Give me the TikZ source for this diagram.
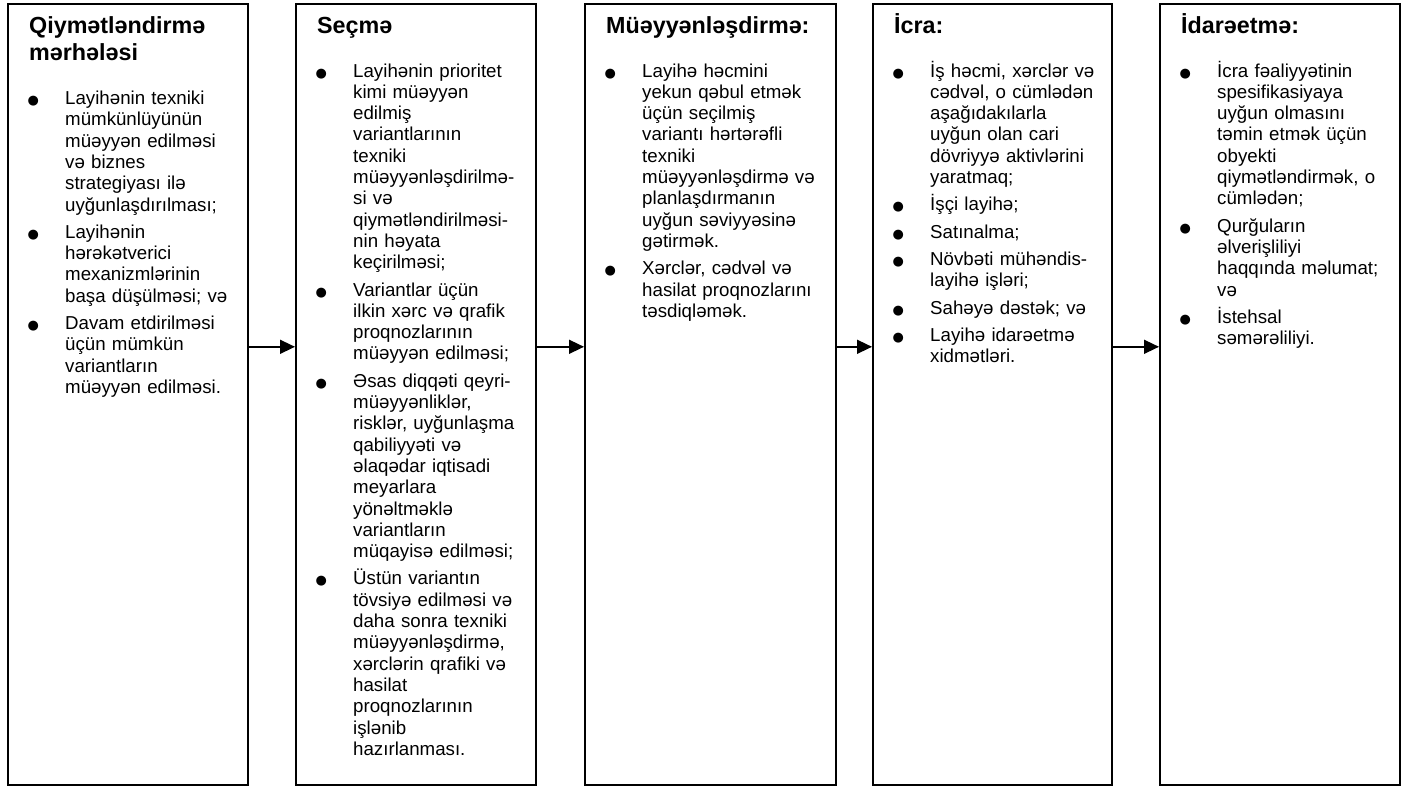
\documentclass[tikz,border=0pt]{standalone}
\usepackage{fontspec}
\setmainfont{Liberation Sans}
\newfontfamily\dotfont{DejaVu Sans}
\usetikzlibrary{arrows.meta, positioning}

\newcommand{\bodyfont}{\fontsize{18.7}{21.3}\selectfont}
\newcommand{\titlefont}{\fontsize{23.3}{27.5}\selectfont\bfseries}
\newcommand{\bdot}{\makebox[0pt]{\dotfont\fontsize{13}{13}\selectfont ●}}
\newcommand{\stitle}[1]{{\titlefont #1\par}\vspace{16.7pt}\setlength{\parskip}{6pt}}
\newcommand{\bitem}[1]{\par{\let\\\newline\hangindent=36pt\hangafter=1\noindent\makebox[36pt][l]{\hspace{4pt}\bdot}#1\par}}

\begin{document}
\begin{tikzpicture}[x=1pt, y=1pt,
    stage/.style={rectangle, draw=black, line width=1.6pt, minimum height=781pt, inner sep=0pt},
    stagetext/.style={anchor=base west, inner sep=0pt, text width=#1, font=\bodyfont},
    stagetext/.default=210pt,
    flow/.style={-{Triangle[length=15pt, width=14pt]}, line width=1.5pt}
]
\useasboundingbox (0,0) rectangle (1415,-787);

% the five stages
\node[stage, minimum width=240pt, anchor=north west] (q) at (7,-3) {};
\node[stage, minimum width=240pt, right=46.4pt of q] (s) {};
\node[stage, minimum width=251pt, right=47.4pt of s] (m) {};
\node[stage, minimum width=239pt, right=35.4pt of m] (i) {};
\node[stage, minimum width=240pt, right=46.4pt of i] (d) {};

\node[stagetext, xshift=22pt, yshift=-30pt] (qtxt) at (q.north west) {%
  \stitle{Qiymətləndirmə\\ mərhələsi}
  \bitem{Layihənin texniki\\ mümkünlüyünün\\ müəyyən edilməsi\\ və biznes\\ strategiyası ilə\\ uyğunlaşdırılması;}
  \bitem{Layihənin\\ hərəkətverici\\ mexanizmlərinin\\ başa düşülməsi; və}
  \bitem{Davam etdirilməsi\\ üçün mümkün\\ variantların\\ müəyyən edilməsi.}};

\node[stagetext, xshift=22pt, yshift=-30pt] (stxt) at (s.north west) {%
  \stitle{Seçmə}
  \bitem{Layihənin prioritet\\ kimi müəyyən\\ edilmiş\\ variantlarının\\ texniki\\ müəyyənləşdirilmə-\\ si və\\ qiymətləndirilməsi-\\ nin həyata\\ keçirilməsi;}
  \bitem{Variantlar üçün\\ ilkin xərc və qrafik\\ proqnozlarının\\ müəyyən edilməsi;}
  \bitem{Əsas diqqəti qeyri-\\ müəyyənliklər,\\ risklər, uyğunlaşma\\ qabiliyyəti və\\ əlaqədar iqtisadi\\ meyarlara\\ yönəltməklə\\ variantların\\ müqayisə edilməsi;}
  \bitem{Üstün variantın\\ tövsiyə edilməsi və\\ daha sonra texniki\\ müəyyənləşdirmə,\\ xərclərin qrafiki və\\ hasilat\\ proqnozlarının\\ işlənib\\ hazırlanması.}};

\node[stagetext=221pt, xshift=22pt, yshift=-30pt] (mtxt) at (m.north west) {%
  \stitle{Müəyyənləşdirmə:}
  \bitem{Layihə həcmini\\ yekun qəbul etmək\\ üçün seçilmiş\\ variantı hərtərəfli\\ texniki\\ müəyyənləşdirmə və\\ planlaşdırmanın\\ uyğun səviyyəsinə\\ gətirmək.}
  \bitem{Xərclər, cədvəl və\\ hasilat proqnozlarını\\ təsdiqləmək.}};

\node[stagetext, xshift=22pt, yshift=-30pt] (itxt) at (i.north west) {%
  \stitle{İcra:}
  \bitem{İş həcmi, xərclər və\\ cədvəl, o cümlədən\\ aşağıdakılarla\\ uyğun olan cari\\ dövriyyə aktivlərini\\ yaratmaq;}
  \bitem{İşçi layihə;}
  \bitem{Satınalma;}
  \bitem{Növbəti mühəndis-\\ layihə işləri;}
  \bitem{Sahəyə dəstək; və}
  \bitem{Layihə idarəetmə\\ xidmətləri.}};

\node[stagetext, xshift=22pt, yshift=-30pt] (dtxt) at (d.north west) {%
  \stitle{İdarəetmə:}
  \bitem{İcra fəaliyyətinin\\ spesifikasiyaya\\ uyğun olmasını\\ təmin etmək üçün\\ obyekti\\ qiymətləndirmək, o\\ cümlədən;}
  \bitem{Qurğuların\\ əlverişliliyi\\ haqqında məlumat;\\ və}
  \bitem{İstehsal\\ səmərəliliyi.}};

\draw[flow] ([yshift=47.5pt]q.east) -- ([yshift=47.5pt]s.west);
\draw[flow] ([yshift=47.5pt]s.east) -- ([yshift=47.5pt]m.west);
\draw[flow] ([yshift=47.5pt]m.east) -- ([yshift=47.5pt]i.west);
\draw[flow] ([yshift=47.5pt]i.east) -- ([yshift=47.5pt]d.west);

\end{tikzpicture}
\end{document}
